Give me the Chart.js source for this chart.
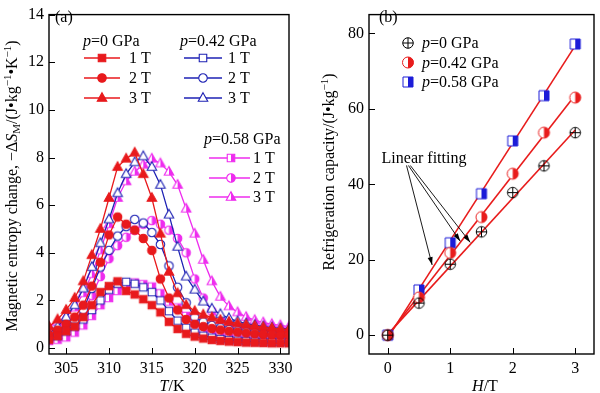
<!DOCTYPE html>
<html>
<head>
<meta charset="utf-8">
<script src="https://cdn.jsdelivr.net/npm/chart.js@4"></script>
<style>
  html, body { margin: 0; padding: 0; background: #fff; }
  #wrap { display: flex; width: 600px; height: 393px; }
  canvas { display: block; }
</style>
</head>
<body>
<div id="wrap">
  <canvas id="chartA" width="300" height="393"></canvas>
  <canvas id="chartB" width="300" height="393"></canvas>
</div>
<script>
// (a) temperature axis, K
const temps = [303, 304, 305, 306, 307, 308, 309, 310, 311, 312, 313, 314, 315, 316, 317,
               318, 319, 320, 321, 322, 323, 324, 325, 326, 327, 328, 329, 330, 331];

// -dS_M in J/(kg K)
const p0_1T  = [0.35, 0.5, 0.7, 0.9, 1.3, 1.8, 2.35, 2.6, 2.8, 2.4, 2.25, 2.05, 1.8, 1.5, 1.1, 0.8, 0.6, 0.48, 0.4, 0.34, 0.3, 0.27, 0.25, 0.23, 0.22, 0.21, 0.2, 0.2, 0.2];
const p0_2T  = [0.55, 0.75, 1.0, 1.3, 1.8, 2.6, 3.6, 4.75, 5.5, 5.2, 4.95, 4.6, 4.1, 2.9, 2.1, 1.6, 1.2, 1.0, 0.9, 0.82, 0.76, 0.71, 0.67, 0.63, 0.6, 0.57, 0.55, 0.53, 0.52];
const p0_3T  = [0.9, 1.2, 1.6, 2.1, 2.8, 3.9, 5.0, 6.3, 7.6, 7.95, 8.2, 7.3, 6.3, 4.8, 3.2, 2.3, 1.8, 1.55, 1.4, 1.28, 1.18, 1.1, 1.04, 0.98, 0.93, 0.88, 0.84, 0.8, 0.78];
const p42_1T = [0.4, 0.5, 0.7, 0.9, 1.2, 1.6, 2.0, 2.45, 2.7, 2.78, 2.7, 2.55, 2.35, 2.0, 1.55, 1.15, 0.85, 0.65, 0.52, 0.44, 0.38, 0.34, 0.31, 0.29, 0.27, 0.26, 0.25, 0.25, 0.24];
const p42_2T = [0.45, 0.6, 0.8, 1.1, 1.6, 2.5, 3.4, 4.1, 4.7, 5.1, 5.4, 5.25, 4.85, 4.35, 3.45, 2.55, 1.9, 1.3, 1.1, 0.95, 0.85, 0.78, 0.72, 0.68, 0.64, 0.6, 0.58, 0.56, 0.55];
const p42_3T = [0.6, 0.9, 1.3, 1.8, 2.5, 3.4, 4.4, 5.4, 6.5, 7.3, 7.8, 8.05, 7.6, 6.85, 5.6, 4.25, 3.0, 2.45, 1.95, 1.65, 1.42, 1.25, 1.12, 1.03, 0.96, 0.9, 0.86, 0.82, 0.8];
const p58_1T = [0.3, 0.35, 0.45, 0.65, 0.95, 1.35, 1.8, 2.1, 2.4, 2.6, 2.75, 2.68, 2.58, 2.3, 1.95, 1.7, 1.35, 1.05, 0.8, 0.6, 0.5, 0.43, 0.38, 0.35, 0.33, 0.32, 0.31, 0.3, 0.3];
const p58_2T = [0.5, 0.65, 0.85, 1.1, 1.5, 2.2, 3.0, 3.75, 4.3, 4.65, 4.95, 5.2, 5.35, 5.2, 4.95, 4.6, 4.0, 2.9, 2.1, 1.55, 1.2, 1.0, 0.86, 0.76, 0.7, 0.65, 0.61, 0.58, 0.55];
const p58_3T = [0.9, 1.1, 1.3, 1.7, 2.3, 3.1, 4.1, 5.2, 6.3, 7.0, 7.4, 7.7, 7.95, 7.75, 7.4, 6.85, 5.85, 4.8, 3.7, 2.8, 2.15, 1.75, 1.5, 1.3, 1.17, 1.07, 1.0, 0.95, 0.9];

const xTicksA = [305, 310, 315, 320, 325, 330];
const yTicksA = [0, 2, 4, 6, 8, 10, 12, 14];

// (b) field and refrigeration capacity, J/kg
const fields = [0, 0.5, 1, 1.5, 2, 2.5, 3];
const rc_p0  = [0, 8.5, 18.8, 27.4, 37.8, 44.9, 53.7];
const rc_p42 = [0, 10.0, 21.8, 31.3, 42.8, 53.7, 63.0];
const rc_p58 = [0, 12.0, 24.5, 37.5, 51.5, 63.5, 77.2];

const xTicksB = [0, 1, 2, 3];
const yTicksB = [0, 20, 40, 60, 80];

const SERIF = '"Liberation Serif", "Times New Roman", serif';
const RED = '#e8191c', BLUE = '#1e22b4', MAG = '#ee2cee';
const RED_B = '#e81c1c', BLUE_B = '#1c1cd8';

function font(size, italic) {
    return (italic ? 'italic ' : '') + size + 'px ' + SERIF;
}

// segs: [text, size, italic, dy]
function rich(ctx, x, y, segs, align) {
    let w = 0;
    segs.forEach(s => { ctx.font = font(s[1], s[2]); w += ctx.measureText(s[0]).width; });
    let cx = align === 'center' ? x - w / 2 : (align === 'right' ? x - w : x);
    ctx.textAlign = 'left';
    ctx.textBaseline = 'alphabetic';
    ctx.fillStyle = '#000';
    segs.forEach(s => {
        ctx.font = font(s[1], s[2]);
        ctx.fillText(s[0], cx, y + (s[3] || 0));
        cx += ctx.measureText(s[0]).width;
    });
}

function markerPath(ctx, shape, s) {
    ctx.beginPath();
    if (shape === 'square') {
        ctx.rect(-s / 2, -s / 2, s, s);
    } else if (shape === 'triangle') {
        const h = s * 0.9;
        ctx.moveTo(0, -h * 0.62);
        ctx.lineTo(s / 2, h * 0.38);
        ctx.lineTo(-s / 2, h * 0.38);
        ctx.closePath();
    } else {
        ctx.arc(0, 0, s / 2, 0, Math.PI * 2);
    }
}

function drawMarker(ctx, x, y, m) {
    ctx.save();
    ctx.translate(x, y);
    markerPath(ctx, m.shape, m.size);
    if (m.fill === 'full') {
        ctx.fillStyle = m.color;
        ctx.fill();
    } else if (m.fill !== 'none') {
        ctx.fillStyle = '#fff';
        ctx.fill();
    }
    if (m.fill === 'half') {
        ctx.save();
        ctx.clip();
        ctx.fillStyle = m.color;
        ctx.fillRect(0, -m.size, m.size, 2 * m.size);
        ctx.restore();
    }
    ctx.lineWidth = m.lw;
    ctx.strokeStyle = m.color;
    markerPath(ctx, m.shape, m.size);
    ctx.stroke();
    if (m.shape === 'oplus') {
        ctx.beginPath();
        ctx.moveTo(-m.size / 2, 0); ctx.lineTo(m.size / 2, 0);
        ctx.moveTo(0, -m.size / 2); ctx.lineTo(0, m.size / 2);
        ctx.stroke();
    }
    ctx.restore();
}

function markerImage(m) {
    const c = document.createElement('canvas');
    const d = Math.ceil(m.size + 4);
    c.width = d; c.height = d;
    drawMarker(c.getContext('2d'), d / 2, d / 2, m);
    return c;
}

function frameAndTicks(chart) {
    const ctx = chart.ctx, a = chart.chartArea;
    ctx.save();
    ctx.strokeStyle = '#000';
    ctx.lineWidth = 1;
    ctx.beginPath();
    chart.scales.x.ticks.forEach(t => {
        const px = Math.round(chart.scales.x.getPixelForValue(t.value)) + 0.5;
        ctx.moveTo(px, a.bottom); ctx.lineTo(px, a.bottom - 6);
    });
    chart.scales.y.ticks.forEach(t => {
        const py = Math.round(chart.scales.y.getPixelForValue(t.value)) + 0.5;
        ctx.moveTo(a.left, py); ctx.lineTo(a.left + 6, py);
    });
    ctx.stroke();
    ctx.lineWidth = 1.4;
    ctx.strokeRect(a.left, a.top, a.right - a.left, a.bottom - a.top);
    ctx.restore();
}

function scalesFor(xmin, xmax, xt, ymin, ymax, yt, yw) {
    const tickFont = { family: SERIF, size: 16 };
    return {
        x: {
            type: 'linear', min: xmin, max: xmax,
            grid: { display: false, drawTicks: false }, border: { display: false },
            afterBuildTicks: s => { s.ticks = xt.map(v => ({ value: v })); },
            afterFit: s => { s.height = 39; },
            ticks: { font: tickFont, color: '#000', padding: 5, maxRotation: 0, autoSkip: false }
        },
        y: {
            type: 'linear', min: ymin, max: ymax,
            grid: { display: false, drawTicks: false }, border: { display: false },
            afterBuildTicks: s => { s.ticks = yt.map(v => ({ value: v })); },
            afterFit: s => { s.width = yw; },
            ticks: { font: tickFont, color: '#000', padding: 5, autoSkip: false }
        }
    };
}

// ---------- panel (a) ----------
const seriesA = [
    { d: p0_1T,  c: RED,  shape: 'square',   fill: 'full' },
    { d: p0_2T,  c: RED,  shape: 'circle',   fill: 'full' },
    { d: p0_3T,  c: RED,  shape: 'triangle', fill: 'full' },
    { d: p42_1T, c: BLUE, shape: 'square',   fill: 'open' },
    { d: p42_2T, c: BLUE, shape: 'circle',   fill: 'open' },
    { d: p42_3T, c: BLUE, shape: 'triangle', fill: 'open' },
    { d: p58_1T, c: MAG,  shape: 'square',   fill: 'half' },
    { d: p58_2T, c: MAG,  shape: 'circle',   fill: 'half' },
    { d: p58_3T, c: MAG,  shape: 'triangle', fill: 'half' }
];
const markSize = { square: 7.5, circle: 8.5, triangle: 9.5 };
seriesA.forEach(s => {
    s.m = { shape: s.shape, fill: s.fill, color: s.c, size: markSize[s.shape], lw: 1.1 };
    s.img = markerImage(s.m);
});

const legendA = [
    { p: '0',    hx: 83,  hy: 46,  x0: 84,  x1: 120, mx: 102, tx: 129, rows: [58, 78, 98],   idx: [0, 1, 2] },
    { p: '0.42', hx: 180, hy: 46,  x0: 184, x1: 222, mx: 203, tx: 228, rows: [58, 78, 98],   idx: [3, 4, 5] },
    { p: '0.58', hx: 204, hy: 144, x0: 209, x1: 250, mx: 231, tx: 253, rows: [158, 178, 197], idx: [6, 7, 8] }
];
const fieldLabels = ['1 T', '2 T', '3 T'];

const decoA = {
    id: 'decoA',
    afterDraw(chart) {
        const ctx = chart.ctx;
        frameAndTicks(chart);
        rich(ctx, 55, 22, [['(a)', 16]]);
        legendA.forEach(g => {
            rich(ctx, g.hx, g.hy, [['p', 16, true], ['=' + g.p + ' GPa', 16]]);
            g.idx.forEach((si, r) => {
                const s = seriesA[si], y = g.rows[r];
                ctx.save();
                ctx.strokeStyle = s.c; ctx.lineWidth = 1.6;
                ctx.beginPath(); ctx.moveTo(g.x0, y); ctx.lineTo(g.x1, y); ctx.stroke();
                ctx.restore();
                drawMarker(ctx, g.mx, y, s.m);
                rich(ctx, g.tx, y + 5, [[fieldLabels[r], 16]]);
            });
        });
        // y title
        ctx.save();
        ctx.translate(12, 186);
        ctx.rotate(-Math.PI / 2);
        rich(ctx, 0, 5, [
            ['Magnetic entropy change, \u2212\u0394', 16], ['S', 16, true], ['M', 11, false, 3],
            ['/(J\u2022kg', 16], ['\u22121', 11, false, -6], ['\u2022K', 16], ['\u22121', 11, false, -6], [')', 16]
        ], 'center');
        ctx.restore();
        rich(ctx, 172, 391, [['T', 16, true], ['/K', 16]], 'center');
    }
};

new Chart(document.getElementById('chartA'), {
    type: 'line',
    data: {
        datasets: seriesA.map(s => ({
            data: temps.map((t, i) => ({ x: t, y: s.d[i] })),
            borderColor: s.c,
            borderWidth: 1.3,
            pointStyle: s.img,
            pointRadius: 4,
            tension: 0,
            fill: false
        }))
    },
    options: {
        responsive: false,
        animation: false,
        events: [],
        layout: { padding: { top: 5, right: 11, left: 0, bottom: 0 } },
        plugins: { legend: { display: false }, tooltip: { enabled: false } },
        scales: scalesFor(303, 331, xTicksA, -0.25, 14, yTicksA, 49)
    },
    plugins: [decoA]
});

// ---------- panel (b) ----------
function linFit(xs, ys) {
    const n = xs.length;
    const mx = xs.reduce((a, b) => a + b, 0) / n;
    const my = ys.reduce((a, b) => a + b, 0) / n;
    let sxy = 0, sxx = 0;
    xs.forEach((x, i) => { sxy += (x - mx) * (ys[i] - my); sxx += (x - mx) * (x - mx); });
    const k = sxy / sxx;
    return [{ x: xs[0], y: my + k * (xs[0] - mx) }, { x: xs[n - 1], y: my + k * (xs[n - 1] - mx) }];
}

const seriesB = [
    { p: '0',    d: rc_p0,  m: { shape: 'oplus',  fill: 'none', color: '#000',  size: 10.5, lw: 1 } },
    { p: '0.42', d: rc_p42, m: { shape: 'circle', fill: 'half', color: RED_B,  size: 11,   lw: 1 } },
    { p: '0.58', d: rc_p58, m: { shape: 'square', fill: 'half', color: BLUE_B, size: 10,   lw: 1 } }
];
seriesB.forEach(s => { s.img = markerImage(s.m); });

// annotation arrows in data units: from the label to the fitted lines
const arrows = [[0.30, 45, 0.71, 18.6], [0.33, 45, 1.16, 24.9], [0.36, 45, 1.32, 24.6]];

const decoB = {
    id: 'decoB',
    afterDraw(chart) {
        const ctx = chart.ctx, xs = chart.scales.x, ys = chart.scales.y;
        frameAndTicks(chart);
        rich(ctx, 79, 22, [['(b)', 16]]);
        seriesB.forEach((s, i) => {
            const y = 43 + i * 19.5;
            drawMarker(ctx, 108, y, s.m);
            rich(ctx, 122, y + 5, [['p', 16, true], ['=' + s.p + ' GPa', 16]]);
        });
        rich(ctx, xs.getPixelForValue(0.58), ys.getPixelForValue(47) + 5, [['Linear fitting', 16]], 'center');
        ctx.save();
        ctx.strokeStyle = '#000'; ctx.fillStyle = '#000'; ctx.lineWidth = 0.9;
        arrows.forEach(a => {
            const x0 = xs.getPixelForValue(a[0]), y0 = ys.getPixelForValue(a[1]);
            const x1 = xs.getPixelForValue(a[2]), y1 = ys.getPixelForValue(a[3]);
            const ang = Math.atan2(y1 - y0, x1 - x0);
            ctx.beginPath(); ctx.moveTo(x0, y0); ctx.lineTo(x1, y1); ctx.stroke();
            ctx.beginPath();
            ctx.moveTo(x1, y1);
            ctx.lineTo(x1 - 8 * Math.cos(ang) + 2.5 * Math.sin(ang), y1 - 8 * Math.sin(ang) - 2.5 * Math.cos(ang));
            ctx.lineTo(x1 - 8 * Math.cos(ang) - 2.5 * Math.sin(ang), y1 - 8 * Math.sin(ang) + 2.5 * Math.cos(ang));
            ctx.closePath(); ctx.fill();
        });
        ctx.restore();
        // y title
        ctx.save();
        ctx.translate(29, 172);
        ctx.rotate(-Math.PI / 2);
        rich(ctx, 0, 5, [['Refrigeration capacity/(J\u2022kg', 16], ['\u22121', 11, false, -6], [')', 16]], 'center');
        ctx.restore();
        rich(ctx, 185, 391, [['H', 16, true], ['/T', 16]], 'center');
    }
};

new Chart(document.getElementById('chartB'), {
    type: 'line',
    data: {
        datasets: seriesB.map(s => ({
            data: fields.map((h, i) => ({ x: h, y: s.d[i] })),
            showLine: false,
            pointStyle: s.img,
            pointRadius: 5
        })).concat(seriesB.map(s => ({
            data: linFit(fields, s.d),
            borderColor: RED_B,
            borderWidth: 1.6,
            pointRadius: 0,
            tension: 0,
            fill: false
        })))
    },
    options: {
        responsive: false,
        animation: false,
        events: [],
        layout: { padding: { top: 5, right: 1, left: 0, bottom: 0 } },
        plugins: { legend: { display: false }, tooltip: { enabled: false } },
        scales: scalesFor(-0.3, 3.3, xTicksB, -5, 85, yTicksB, 69)
    },
    plugins: [decoB]
});
</script>
</body>
</html>
